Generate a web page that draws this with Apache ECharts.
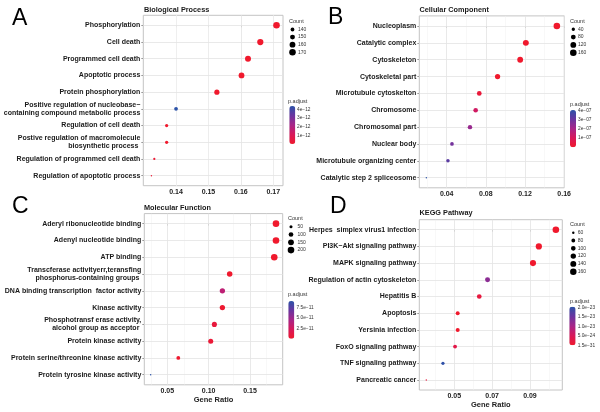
<!DOCTYPE html>
<html><head><meta charset="utf-8">
<script src="https://cdn.jsdelivr.net/npm/echarts@6/dist/echarts.min.js"></script>
<style>html,body{margin:0;padding:0;background:#fff}#c{width:600px;height:412px}</style>
</head><body><div id="c"></div>
<script>
// ---------------- DATA ----------------
const bpTerms = ["Phosphorylation","Cell death","Programmed cell death","Apoptotic process","Protein phosphorylation",
  "Positive regulation of nucleobase\u2212\ncontaining compound metabolic process","Regulation of cell death",
  "Postive regulation of macromolecule\nbiosynthetic process ","Regulation of programmed cell death","Regulation of apoptotic process"];
const bpRatio = [0.1710,0.1660,0.1622,0.1602,0.1526,0.1400,0.1371,0.1371,0.1333,0.1324];
const bpCount = [171,166,162,160,153,140,137,137,133,132];
const bpPadj  = [1e-20,2e-19,5e-19,5e-19,1e-17,4.38e-12,1e-14,1e-14,2e-13,2e-13];
const bpTicks = [0.14,0.15,0.16,0.17];
const bpMinor = [0.135,0.145,0.155,0.165];
const bpCountLegend = [140,150,160,170];
const bpPadjLegend = [4e-12,3e-12,2e-12,1e-12];
const bpPadjLabels = ["4e\u221212","3e\u221212","2e\u221212","1e\u221212"];

const ccTerms = ["Nucleoplasm","Catalytic complex","Cytoskeleton","Cytoskeletal part","Microtubule cytoskelton",
  "Chromosome","Chromosomal part","Nuclear body","Microtubule organizing center","Catalytic step 2 spliceosome"];
const ccRatio = [0.1526,0.1209,0.1151,0.0920,0.0733,0.0696,0.0638,0.0454,0.0413,0.0192];
const ccCount = [160,127,121,97,77,73,67,48,43,20];
const ccPadj  = [1e-12,5e-12,5e-12,1e-10,3e-8,1.2e-7,2.3e-7,2.9e-7,3.3e-7,4.08e-7];
const ccTicks = [0.04,0.08,0.12,0.16];
const ccMinor = [0.02,0.06,0.10,0.14];
const ccCountLegend = [40,80,120,160];
const ccPadjLegend = [4e-7,3e-7,2e-7,1e-7];
const ccPadjLabels = ["4e\u221207","3e\u221207","2e\u221207","1e\u221207"];

const mfTerms = ["Aderyl ribonucleotide binding","Adenyl nucleotide binding","ATP binding",
  "Transcferase activityerr,teransfing\nphosphorus-containing groups ","DNA binding transcription  factor activity",
  "Kinase activity","Phosphotransf erase activity,\nalcohol group as acceptor ","Protein kinase activity",
  "Protein serine/threonine kinase activity","Protein tyrosine kinase activity"];
const mfRatio = [0.1814,0.1814,0.1793,0.1254,0.1166,0.1166,0.1069,0.1025,0.0633,0.0299];
const mfCount = [200,200,197,138,128,128,118,113,70,33];
const mfPadj  = [1e-15,1e-15,1e-15,5e-13,3.5e-11,2e-12,8e-12,5e-12,1e-12,9.0e-11];
const mfTicks = [0.05,0.10,0.15];
const mfMinor = [0.025,0.075,0.125,0.175];
const mfCountLegend = [50,100,150,200];
const mfPadjLegend = [7.5e-11,5.0e-11,2.5e-11];
const mfPadjLabels = ["7.5e\u221211","5.0e\u221211","2.5e\u221211"];

const kgTerms = ["Herpes  simplex virus1 infection","PI3K\u2212Akt signaling pathway","MAPK signaling pathway",
  "Regulation of actin cytoskeleton","Hepatitis B","Apoptosis","Yersinia infection","FoxO signaling pathway",
  "TNF signaling pathway","Pancreatic cancer"];
const kgRatio = [0.1037,0.0947,0.0916,0.0676,0.0632,0.0518,0.0518,0.0504,0.0440,0.0352];
const kgCount = [166,152,147,108,101,83,83,81,70,56];
const kgPadj  = [1e-31,1e-30,1e-29,1.25e-23,2e-24,1e-26,1e-26,3e-24,2.0e-23,2e-24];
const kgTicks = [0.05,0.07,0.09];
const kgMinor = [0.04,0.06,0.08,0.10];
const kgCountLegend = [60,80,100,120,140,160];
const kgPadjLegend = [2.0e-23,1.5e-23,1.0e-23,5.0e-24,1.5e-31];
const kgPadjLabels = ["2.0e\u221223","1.5e\u221223","1.0e\u221223","5.0e\u221224","1.5e\u221231"];

// ---------------- LAYOUT / STYLE ----------------
const FONT = 'Liberation Sans, Arial, Helvetica, sans-serif';
const GRAD = ['#f0192d','#d8185a','#a82588','#6a35a0','#2b52a8'];
function dotSize(c, lo, hi){ const t = Math.max(0, Math.min(1, (c-lo)/(hi-lo))); return 1.4 + 5.2*Math.sqrt(t); }

const panels = [
  {terms:bpTerms, ratio:bpRatio, count:bpCount, padj:bpPadj, ticks:bpTicks, minor:bpMinor,
   cLeg:bpCountLegend, pLeg:bpPadjLegend, pLab:bpPadjLabels, title:'Biological Process', letter:'A', xName:'',
   grid:{l:143.3,t:15.3,w:139.7,h:170.4}, xr:[0.1299,0.173], pmax:4.38e-12,
   tt:{x:144,y:9.5}, lt:{x:12,y:18.5}, cl:{tx:289,ty:21,dx:292.5,dy0:29.5,step:7.6,lx:298},
   bar:{x:289.3,y:106,w:6,h:38,lx:297,tx:288,ty:101}},
  {terms:ccTerms, ratio:ccRatio, count:ccCount, padj:ccPadj, ticks:ccTicks, minor:ccMinor,
   cLeg:ccCountLegend, pLeg:ccPadjLegend, pLab:ccPadjLabels, title:'Cellular Component', letter:'B', xName:'',
   grid:{l:419.3,t:15.9,w:145,h:171.9}, xr:[0.012,0.1602], pmax:4.08e-7,
   tt:{x:419.5,y:10}, lt:{x:328,y:17.5}, cl:{tx:570,ty:21,dx:573.3,dy0:29.3,step:7.8,lx:578},
   bar:{x:570,y:110,w:6,h:37.3,lx:578,tx:570,ty:104}},
  {terms:mfTerms, ratio:mfRatio, count:mfCount, padj:mfPadj, ticks:mfTicks, minor:mfMinor,
   cLeg:mfCountLegend, pLeg:mfPadjLegend, pLab:mfPadjLabels, title:'Molecular Function', letter:'C', xName:'Gene Ratio',
   grid:{l:144.3,t:213.6,w:138.4,h:171.2}, xr:[0.0222,0.1895], pmax:9.0e-11,
   tt:{x:144,y:207.5}, lt:{x:12,y:206.5}, cl:{tx:288,ty:218.3,dx:291,dy0:226.7,step:7.8,lx:297.5},
   bar:{x:288.3,y:301,w:6,h:37.7,lx:296.5,tx:288,ty:294}},
  {terms:kgTerms, ratio:kgRatio, count:kgCount, padj:kgPadj, ticks:kgTicks, minor:kgMinor,
   cLeg:kgCountLegend, pLeg:kgPadjLegend, pLab:kgPadjLabels, title:'KEGG Pathway', letter:'D', xName:'Gene Ratio',
   grid:{l:419.3,t:219.7,w:143,h:170.3}, xr:[0.0315,0.1071], pmax:2.03e-23,
   tt:{x:419.5,y:212.7}, lt:{x:330,y:207}, cl:{tx:570,ty:224.3,dx:573.3,dy0:232.7,step:7.8,lx:577.7},
   bar:{x:569.3,y:306.7,w:6.3,h:38.6,lx:577.7,tx:570,ty:301.7}}
];

const grids=[], xAxes=[], yAxes=[], series=[], visualMaps=[], graphics=[];
const idx10 = bpTerms.map((_, i) => i);

panels.forEach((p, k) => {
  grids.push({left:p.grid.l, top:p.grid.t, width:p.grid.w, height:p.grid.h, show:true,
    backgroundColor:'#ffffff', borderColor:'#c4c4c4', borderWidth:1, containLabel:false, outerBoundsMode:'none'});
  xAxes.push({type:'value', gridIndex:k, min:p.xr[0], max:p.xr[1], splitLine:{show:false},
    axisLine:{show:false}, axisTick:{show:true, length:2, customValues:p.ticks, lineStyle:{color:'#9a9a9a'}},
    axisLabel:{customValues:p.ticks, formatter:(v)=>v.toFixed(2), margin:3, fontFamily:FONT, fontWeight:'bold', fontSize:7, color:'#222'},
    name:p.xName, nameLocation:'middle', nameGap:9.5, nameTextStyle:{fontFamily:FONT, fontWeight:'bold', fontSize:7.5, color:'#222'}});
  yAxes.push({type:'value', gridIndex:k, min:-0.6, max:9.6, inverse:true, splitLine:{show:false},
    axisLine:{show:false}, axisTick:{show:true, length:2, customValues:idx10, lineStyle:{color:'#9a9a9a'}},
    axisLabel:{customValues:idx10, formatter:(v)=>p.terms[Math.round(v)] || '', margin:3, fontFamily:FONT,
      fontWeight:'bold', fontSize:7, lineHeight:8, color:'#1a1a1a', align:'right'}});
  // grid lines (through the axes' scales)
  const ml = [];
  p.ticks.forEach(v => ml.push({xAxis:v, lineStyle:{color:'#e3e3e3', width:0.8, type:'solid'}}));
  p.minor.forEach(v => { if (v > p.xr[0] && v < p.xr[1]) ml.push({xAxis:v, lineStyle:{color:'#f1f1f1', width:0.5, type:'solid'}}); });
  idx10.forEach(i => ml.push({yAxis:i, lineStyle:{color:'#e3e3e3', width:0.8, type:'solid'}}));
  series.push({type:'scatter', xAxisIndex:k, yAxisIndex:k, data:[], silent:true, z:1,
    markLine:{silent:true, symbol:['none','none'], label:{show:false}, animation:false, z:1, data:ml}});
  const lo = Math.min(...p.count), hi = Math.max(...p.count);
  series.push({type:'scatter', xAxisIndex:k, yAxisIndex:k, z:3, animation:false,
    data:p.ratio.map((r,i)=>[r, i, p.padj[i], p.count[i]]),
    symbolSize:(v)=>dotSize(v[3], lo, hi), itemStyle:{opacity:1}});
  visualMaps.push({type:'continuous', seriesIndex:series.length-1, dimension:2, min:0, max:p.pmax,
    inRange:{color:GRAD}, left:p.bar.x, top:p.bar.y, itemWidth:p.bar.w, itemHeight:p.bar.h,
    calculable:false, padding:0, text:null, showLabel:false, hoverLink:false});
  // titles and letters
  graphics.push({type:'text', x:p.tt.x, y:p.tt.y, style:{text:p.title, fontFamily:FONT, fontWeight:'bold', fontSize:7.3, fill:'#1a1a1a', align:'left', verticalAlign:'middle'}});
  graphics.push({type:'text', x:p.lt.x, y:p.lt.y, style:{text:p.letter, fontFamily:FONT, fontSize:23, fill:'#000', align:'left', verticalAlign:'middle'}});
  // count legend
  graphics.push({type:'text', x:p.cl.tx, y:p.cl.ty, style:{text:'Count', fontFamily:FONT, fontSize:5.5, fill:'#333', align:'left', verticalAlign:'middle'}});
  p.cLeg.forEach((c, i) => {
    const yy = p.cl.dy0 + i*p.cl.step;
    graphics.push({type:'circle', shape:{cx:p.cl.dx, cy:yy, r:dotSize(c, lo, hi)/2}, style:{fill:'#000'}});
    graphics.push({type:'text', x:p.cl.lx, y:yy, style:{text:String(c), fontFamily:FONT, fontSize:5, fill:'#333', align:'left', verticalAlign:'middle'}});
  });
  // p.adjust legend labels
  graphics.push({type:'text', x:p.bar.tx, y:p.bar.ty, style:{text:'p.adjust', fontFamily:FONT, fontSize:5.5, fill:'#333', align:'left', verticalAlign:'middle'}});
  p.pLeg.forEach((v, i) => {
    const yy = p.bar.y + p.bar.h - (v / p.pmax) * p.bar.h;
    graphics.push({type:'text', x:p.bar.lx, y:yy, style:{text:p.pLab[i], fontFamily:FONT, fontSize:4.8, fill:'#333', align:'left', verticalAlign:'middle'}});
  });
});

const chart = echarts.init(document.getElementById('c'), null, {renderer:'canvas'});
chart.setOption({
  animation:false, backgroundColor:'#ffffff',
  grid:grids, xAxis:xAxes, yAxis:yAxes, series:series, visualMap:visualMaps,
  graphic:{elements:graphics}
});
</script></body></html>
